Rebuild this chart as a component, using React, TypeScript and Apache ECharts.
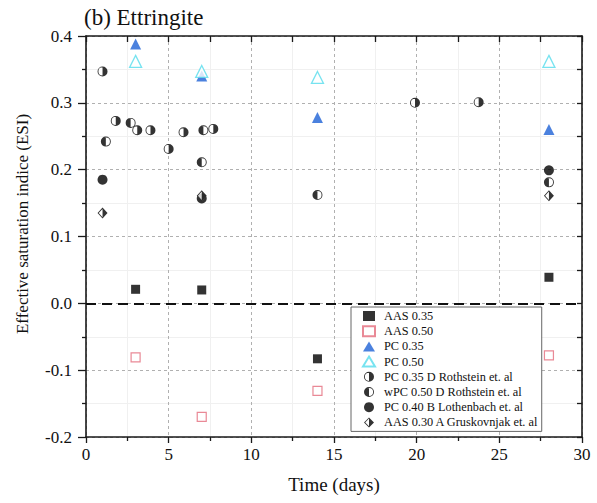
import React, { useEffect, useRef } from "react";
import * as echarts from "echarts";

const FONT = "Liberation Serif";

// ---- data (x = time in days, y = effective saturation index) ----
const seriesNames = [
  "AAS 0.35",
  "AAS 0.50",
  "PC 0.35",
  "PC 0.50",
  "PC 0.35 D Rothstein et. al",
  "wPC 0.50 D Rothstein et. al",
  "PC 0.40 B Lothenbach et. al",
  "AAS 0.30 A Gruskovnjak et. al",
];

const aas035Days = [3, 7, 14, 28];
const aas035Esi = [0.021, 0.02, -0.083, 0.039];

const aas050Days = [3, 7, 14, 28];
const aas050Esi = [-0.081, -0.17, -0.131, -0.078];

const pc035Days = [3, 7, 14, 28];
const pc035Esi = [0.388, 0.34, 0.278, 0.26];

const pc050Days = [3, 7, 14, 28];
const pc050Esi = [0.362, 0.347, 0.338, 0.362];

const rothPc035Days = [1, 1.8, 3.1, 3.9, 5.0, 5.9, 7.7, 19.9, 23.75];
const rothPc035Esi = [0.347, 0.273, 0.259, 0.259, 0.231, 0.256, 0.261, 0.3, 0.301];

const rothWpc050Days = [1.2, 2.7, 7.1, 7.0, 14, 28];
const rothWpc050Esi = [0.242, 0.27, 0.259, 0.211, 0.162, 0.181];

const lothDays = [1, 7, 28];
const lothEsi = [0.185, 0.157, 0.199];

const grusDays = [1, 7, 28];
const grusEsi = [0.135, 0.161, 0.161];

const xMin = 0;
const xMax = 30;
const xStep = 5;
const yMin = -0.2;
const yMax = 0.4;
const yStep = 0.1;

// ---- marker shapes ----
const HALF_RIGHT =
  "path://M0 10A10 10 0 1 1 20 10A10 10 0 1 1 0 10ZM1.8 10A8.2 8.2 0 1 0 18.2 10A8.2 8.2 0 1 0 1.8 10ZM10 0A10 10 0 0 1 10 20Z";
const HALF_LEFT =
  "path://M0 10A10 10 0 1 1 20 10A10 10 0 1 1 0 10ZM1.8 10A8.2 8.2 0 1 0 18.2 10A8.2 8.2 0 1 0 1.8 10ZM10 20A10 10 0 0 1 10 0Z";
const HALF_DIAMOND =
  "path://M10 0L20 10L10 20L0 10ZM10 2.4L2.4 10L10 17.6L17.6 10ZM10 0L20 10L10 20Z";

const pairs = (xs: number[], ys: number[]) => xs.map((x, i) => [x, ys[i]]);

export default function App() {
  const ref = useRef<HTMLDivElement>(null);

  useEffect(() => {
    if (!ref.current) return;
    const chart = echarts.init(ref.current, null, { renderer: "svg" });

    const axisLine = { color: "#1a1a1a", width: 1.6 };
    const tickLine = { color: "#1a1a1a", width: 1.3 };
    const majorGrid = { color: "#b0b0b0", type: [3, 3], width: 1 };
    const minorGrid = { color: "#f0f0f0", width: 1 };

    const option: any = {
      animation: false,
      backgroundColor: "#ffffff",
      textStyle: { fontFamily: FONT },
      title: {
        text: "(b) Ettringite",
        left: 84,
        top: 6,
        padding: 0,
        textStyle: { fontSize: 23, fontWeight: "normal", color: "#111", fontFamily: FONT },
      },
      grid: { left: 86, top: 36, right: 15, bottom: 66 },
      xAxis: [
        {
          type: "value",
          min: xMin,
          max: xMax,
          interval: xStep,
          position: "bottom",
          axisLine: { show: true, onZero: false, lineStyle: axisLine },
          axisTick: { show: true, inside: false, length: 6, lineStyle: tickLine },
          minorTick: { show: true, splitNumber: 2, length: 4, lineStyle: tickLine },
          axisLabel: { margin: 9, fontSize: 17, color: "#111", fontFamily: FONT },
          splitLine: { show: true, lineStyle: majorGrid },
          minorSplitLine: { show: true, lineStyle: minorGrid },
        },
        {
          type: "value",
          min: xMin,
          max: xMax,
          interval: xStep,
          position: "top",
          axisLine: { show: true, onZero: false, lineStyle: axisLine },
          axisTick: { show: true, inside: true, length: 6, lineStyle: tickLine },
          minorTick: { show: true, splitNumber: 2, length: 6, lineStyle: tickLine },
          axisLabel: { show: false },
          splitLine: { show: false },
        },
      ],
      yAxis: [
        {
          type: "value",
          min: yMin,
          max: yMax,
          interval: yStep,
          position: "left",
          axisLine: { show: true, onZero: false, lineStyle: axisLine },
          axisTick: { show: true, inside: false, length: 8, lineStyle: tickLine },
          minorTick: { show: true, splitNumber: 2, length: 4, lineStyle: tickLine },
          axisLabel: {
            margin: 14,
            fontSize: 17,
            color: "#111",
            fontFamily: FONT,
            formatter: (v: number) => (Math.abs(v) < 1e-9 ? "0.0" : v.toFixed(1)),
          },
          splitLine: { show: true, lineStyle: majorGrid },
          minorSplitLine: { show: true, lineStyle: minorGrid },
        },
        {
          type: "value",
          min: yMin,
          max: yMax,
          interval: yStep,
          position: "right",
          axisLine: { show: true, onZero: false, lineStyle: axisLine },
          axisTick: { show: true, inside: true, length: 5, lineStyle: tickLine },
          minorTick: { show: true, splitNumber: 2, length: 5, lineStyle: tickLine },
          axisLabel: { show: false },
          splitLine: { show: false },
        },
      ],
      legend: {
        orient: "vertical",
        left: 351,
        top: 307,
        data: seriesNames,
        itemWidth: 12,
        itemHeight: 10,
        itemGap: 3.2,
        padding: [3, 3, 3, 11],
        backgroundColor: "#ffffff",
        borderColor: "#666666",
        borderWidth: 1,
        borderRadius: 0,
        textStyle: {
          fontSize: 12.3,
          color: "#111",
          fontFamily: FONT,
          lineHeight: 12,
          padding: [0, 0, 0, 4],
        },
      },
      graphic: [
        {
          type: "text",
          x: 22,
          y: 224,
          rotation: Math.PI / 2,
          style: {
            text: "Effective saturation indice (ESI)",
            fontFamily: FONT,
            fontSize: 17,
            fill: "#111",
            align: "center",
            verticalAlign: "middle",
          },
        },
        {
          type: "text",
          x: 334,
          y: 484,
          style: {
            text: "Time (days)",
            fontFamily: FONT,
            fontSize: 19,
            fill: "#111",
            align: "center",
            verticalAlign: "middle",
          },
        },
      ],
      series: [
        {
          name: seriesNames[0],
          type: "scatter",
          z: 3,
          symbol: "rect",
          symbolSize: 9,
          itemStyle: { color: "#000000" },
          data: pairs(aas035Days, aas035Esi),
          markLine: {
            silent: true,
            symbol: ["none", "none"],
            label: { show: false },
            lineStyle: { color: "#111111", type: [10, 6], width: 2 },
            data: [{ yAxis: 0 }],
          },
        },
        {
          name: seriesNames[1],
          type: "scatter",
          z: 3,
          symbol: "rect",
          symbolSize: 9,
          itemStyle: { color: "#ffffff", borderColor: "#e36c7c", borderWidth: 1.2 },
          data: pairs(aas050Days, aas050Esi),
        },
        {
          name: seriesNames[2],
          type: "scatter",
          z: 3,
          symbol: "triangle",
          symbolSize: 11,
          itemStyle: { color: "#1e62d6" },
          data: pairs(pc035Days, pc035Esi),
        },
        {
          name: seriesNames[3],
          type: "scatter",
          z: 3,
          symbol: "triangle",
          symbolSize: 12,
          itemStyle: { color: "#ffffff", borderColor: "#55dcec", borderWidth: 1.3 },
          data: pairs(pc050Days, pc050Esi),
        },
        {
          name: seriesNames[4],
          type: "scatter",
          z: 5,
          symbol: HALF_RIGHT,
          symbolSize: 10,
          itemStyle: { color: "#000000" },
          data: pairs(rothPc035Days, rothPc035Esi),
        },
        {
          name: seriesNames[5],
          type: "scatter",
          z: 5,
          symbol: HALF_LEFT,
          symbolSize: 10,
          itemStyle: { color: "#000000" },
          data: pairs(rothWpc050Days, rothWpc050Esi),
        },
        {
          name: seriesNames[6],
          type: "scatter",
          z: 5,
          symbol: "circle",
          symbolSize: 10,
          itemStyle: { color: "#000000" },
          data: pairs(lothDays, lothEsi),
        },
        {
          name: seriesNames[7],
          type: "scatter",
          z: 7,
          symbol: HALF_DIAMOND,
          symbolSize: [10, 11],
          itemStyle: { color: "#000000" },
          data: pairs(grusDays, grusEsi),
        },
        // white backings for the half-filled markers (same names, drawn underneath)
        {
          name: seriesNames[4],
          type: "scatter",
          z: 4,
          symbol: "circle",
          symbolSize: 9.5,
          itemStyle: { color: "#ffffff" },
          data: pairs(rothPc035Days, rothPc035Esi),
        },
        {
          name: seriesNames[5],
          type: "scatter",
          z: 4,
          symbol: "circle",
          symbolSize: 9.5,
          itemStyle: { color: "#ffffff" },
          data: pairs(rothWpc050Days, rothWpc050Esi),
        },
        {
          name: seriesNames[7],
          type: "scatter",
          z: 6,
          symbol: "diamond",
          symbolSize: [9.5, 10.5],
          itemStyle: { color: "#ffffff" },
          data: pairs(grusDays, grusEsi),
        },
      ],
    };

    chart.setOption(option);
    return () => chart.dispose();
  }, []);

  return (
    <div
      ref={ref}
      style={{ position: "absolute", left: 0, top: 0, width: 597, height: 503, background: "#fff" }}
    />
  );
}
